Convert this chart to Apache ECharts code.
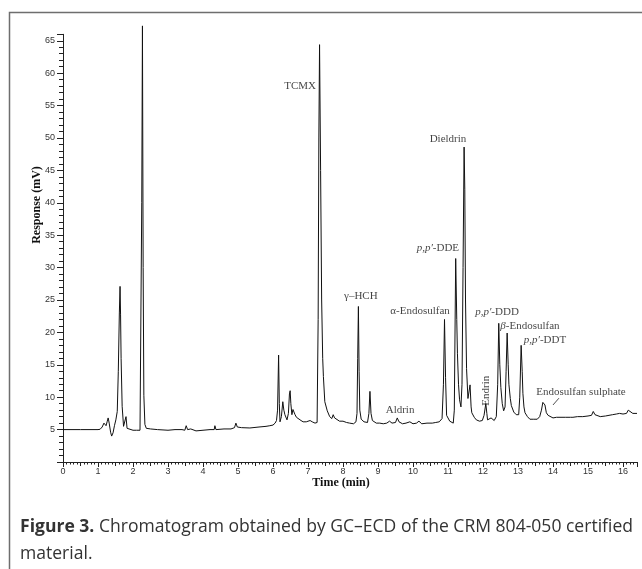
<!DOCTYPE html>
<html><head><meta charset="utf-8">
<script src="https://cdn.jsdelivr.net/npm/echarts@6/dist/echarts.min.js"></script>
<style>html,body{margin:0;padding:0;background:#fff}#c{width:642px;height:569px}</style>
</head><body><div id="c"></div>
<script>
// Retention time (min)
const times = [
0.00,0.50,1.00,1.06,1.12,1.17,1.20,1.23,1.26,1.29,1.32,1.36,1.39,1.43,1.47,1.51,1.55,1.58,1.61,1.63,1.645,1.66,1.69,1.73,1.76,1.80,1.83,1.88,2.00,2.10,2.20,2.23,2.25,2.27,2.29,2.31,2.34,2.38,2.50,2.70,3.00,3.20,3.40,3.48,3.52,3.56,3.65,3.80,4.00,4.20,4.32,4.34,4.37,4.60,4.80,4.90,4.94,4.98,5.10,5.34,5.60,5.80,5.91,6.00,6.06,6.10,6.13,6.16,6.18,6.20,6.24,6.28,6.31,6.34,6.40,6.44,6.47,6.49,6.51,6.54,6.57,6.60,6.63,6.67,6.72,6.80,6.86,6.95,7.00,7.06,7.12,7.20,7.26,7.29,7.31,7.33,7.36,7.39,7.42,7.44,7.48,7.55,7.62,7.68,7.72,7.76,7.81,7.90,8.00,8.10,8.19,8.30,8.37,8.40,8.42,8.44,8.46,8.48,8.52,8.60,8.70,8.74,8.77,8.80,8.84,8.95,9.05,9.15,9.25,9.33,9.40,9.50,9.55,9.60,9.70,9.80,9.91,10.00,10.10,10.17,10.25,10.40,10.55,10.65,10.75,10.83,10.87,10.90,10.93,10.96,11.05,11.15,11.18,11.22,11.25,11.27,11.30,11.33,11.37,11.40,11.43,11.46,11.48,11.50,11.53,11.57,11.60,11.63,11.66,11.68,11.75,11.81,11.90,11.98,12.03,12.08,12.11,12.13,12.18,12.23,12.28,12.32,12.38,12.42,12.45,12.48,12.51,12.55,12.59,12.63,12.66,12.69,12.72,12.74,12.78,12.81,12.88,12.95,13.02,13.05,13.09,13.12,13.14,13.17,13.20,13.27,13.34,13.45,13.55,13.62,13.67,13.71,13.74,13.77,13.81,13.86,13.91,14.00,14.10,14.20,14.35,14.50,14.57,14.70,14.85,15.00,15.10,15.15,15.20,15.25,15.35,15.50,15.60,15.70,15.81,15.90,16.00,16.10,16.15,16.20,16.28,16.33,16.40
];
// Detector response (mV)
const response = [
5.0,5.0,5.0,5.05,5.4,6.0,6.1,5.6,6.2,6.8,6.0,4.6,4.0,4.5,5.6,6.5,7.8,14.0,23.0,27.1,22.7,16.0,8.6,5.5,5.6,7.0,5.2,4.9,4.9,4.9,4.9,5.2,40.0,67.3,30.0,10.3,5.8,5.2,5.1,5.0,4.9,5.0,5.0,4.9,5.6,5.0,5.1,4.8,4.9,5.0,5.0,5.6,5.0,5.1,5.1,5.3,6.0,5.4,5.3,5.25,5.4,5.5,5.6,5.7,6.0,6.4,8.0,16.5,9.0,6.2,7.0,9.3,8.0,7.3,6.5,7.5,10.5,11.0,9.0,7.3,8.1,8.0,7.3,6.9,6.7,6.4,6.2,6.2,6.3,6.4,6.2,6.0,6.1,22.0,50.0,64.4,45.0,25.0,16.0,13.2,9.3,7.9,7.0,6.7,7.3,6.8,6.5,6.3,6.3,6.1,6.0,5.9,6.2,7.5,16.0,24.0,14.0,8.0,6.6,6.2,6.1,7.5,10.9,7.5,6.4,6.0,6.0,5.9,6.0,6.3,6.0,6.1,6.8,6.2,5.9,6.0,6.2,5.9,6.0,6.3,5.9,6.0,6.0,6.1,6.2,6.7,12.0,22.0,13.0,7.2,6.3,6.0,8.0,31.4,22.0,16.7,12.0,9.6,8.5,12.0,30.0,48.6,42.0,25.0,14.4,9.8,9.5,11.9,8.5,7.6,6.9,6.5,6.3,6.4,7.2,9.0,7.5,6.5,6.5,6.8,6.5,6.4,7.0,12.0,21.4,15.0,11.5,9.0,7.9,8.5,14.0,19.9,15.0,12.0,9.8,8.7,7.7,7.3,7.3,10.0,18.0,14.0,10.6,8.5,7.6,7.0,6.6,6.6,6.6,7.0,8.0,9.2,9.3,8.8,7.6,7.2,6.9,6.8,6.9,6.9,6.9,6.9,6.9,7.0,7.0,7.1,7.2,7.8,7.3,7.0,7.0,7.1,7.2,7.3,7.4,7.5,7.4,7.5,8.0,7.8,7.5,7.6,7.5
];
// Peak annotations (text, anchor time, anchor response)
const peakNames = ['TCMX','γ–HCH','Aldrin','α-Endosulfan','{i|p,p′}-DDE','Dieldrin','Endrin','{i|p,p′}-DDD','{i|β}-Endosulfan','{i|p,p′}-DDT','Endosulfan sulphate'];
const peakLabelTimes = [7.23,8.51,9.63,10.20,10.71,11.00,12.09,12.40,13.34,13.77,14.80];
const peakLabelValues = [58.0,25.6,8.0,23.3,33.0,49.8,11.0,23.1,21.0,18.8,10.8];
// leader line for Endosulfan sulphate
const leaderTimes = [14.17,14.00];
const leaderValues = [9.85,8.8];
// axis ticks
const yTickLabels = ['5','10','15','20','25','30','35','40','45','50','55','60','65'];
const xTickLabels = ['0','1','2','3','4','5','6','7','8','9','10','11','12','13','14','15','16'];
const captionBold = 'Figure 3.';
const captionLine1 = ' Chromatogram obtained by GC–ECD of the CRM 804-050 certified';
const captionLine2 = 'material.';

const chart = echarts.init(document.getElementById('c'), null, {renderer:'canvas'});
const lineData = times.map((t,i)=>[t,response[i]]);
const labelData = peakNames.map((n,i)=>{
  const d = {value:[peakLabelTimes[i],peakLabelValues[i]], name:n};
  if (n==='TCMX') d.label = {align:'right'};
  if (n==='Endrin') d.label = {rotate:90};
  return d;
});

// caption width fitting
const mc = document.createElement('canvas').getContext('2d');
const capFont = '"Liberation Sans Narrow","Open Sans",sans-serif';
mc.font = 'bold 18px ' + capFont; const wb = mc.measureText(captionBold).width;
mc.font = '18px ' + capFont; const wr = mc.measureText(captionLine1).width;
const capScale = 613/(wb+wr);

const tickFont = {fontFamily:'"Liberation Sans",Arial,sans-serif', fontSize:9, color:'#333'};
const serif = '"Liberation Serif","Times New Roman",serif';

chart.setOption({
  animation:false,
  backgroundColor:'#fff',
  grid:{left:63,right:5,top:34.3,bottom:107,containLabel:false},
  xAxis:[{
    type:'value',min:0,max:16.4,interval:1,
    axisLine:{show:true,onZero:false,lineStyle:{color:'#222',width:1}},
    axisTick:{show:true,length:5,lineStyle:{color:'#222'}},
    minorTick:{show:true,splitNumber:10,length:2.5,lineStyle:{color:'#222'}},
    splitLine:{show:false},
    axisLabel:Object.assign({margin:5,showMaxLabel:false,formatter:v=>{const s=String(Math.round(v)); return xTickLabels.includes(s)&&Math.abs(v-Math.round(v))<1e-6?s:'';}},tickFont)
  },{
    type:'value',min:0,max:16.4,interval:0.5,position:'bottom',
    axisLine:{show:false},axisTick:{show:true,length:4,lineStyle:{color:'#222'}},
    axisLabel:{show:false},splitLine:{show:false}
  }],
  yAxis:{
    type:'value',min:0,max:66,interval:5,
    axisLine:{show:true,onZero:false,lineStyle:{color:'#222',width:1}},
    axisTick:{show:true,length:6,lineStyle:{color:'#222'}},
    minorTick:{show:true,splitNumber:5,length:4,lineStyle:{color:'#222'}},
    splitLine:{show:false},
    axisLabel:Object.assign({margin:8,showMaxLabel:false,formatter:v=>{const s=String(v); return yTickLabels.includes(s)?s:'';}},tickFont)
  },
  series:[{
    type:'line',data:lineData,showSymbol:false,symbol:'none',clip:false,
    lineStyle:{color:'#111',width:1},silent:true
  },{
    type:'line',data:leaderTimes.map((t,i)=>[t,leaderValues[i]]),showSymbol:false,symbol:'none',
    lineStyle:{color:'#222',width:0.8},silent:true
  },{
    type:'scatter',data:labelData,symbolSize:0,silent:true,
    label:{show:true,position:'inside',formatter:p=>p.name,fontFamily:serif,fontSize:11,color:'#111',
      rich:{i:{fontStyle:'italic',fontFamily:serif,fontSize:11,color:'#111'}}}
  }],
  graphic:[
    {type:'rect',shape:{x:9.5,y:12.5,width:700,height:700},style:{fill:'none',stroke:'#6e6e6e',lineWidth:1.5},silent:true},
    {type:'text',x:341,y:483,style:{text:'Time (min)',font:'bold 12px '+serif,fill:'#111',textAlign:'center',textVerticalAlign:'middle'}},
    {type:'text',x:37,y:205,rotation:Math.PI/2,style:{text:'Response (mV)',font:'bold 12px '+serif,fill:'#111',textAlign:'center',textVerticalAlign:'middle'}},
    {type:'group',x:20,y:527,scaleX:capScale,children:[
      {type:'text',x:0,y:0,style:{text:'{b|'+captionBold+'}{r|'+captionLine1+'}',textVerticalAlign:'middle',
        rich:{b:{font:'bold 18px '+capFont,fill:'#333'},r:{font:'18px '+capFont,fill:'#333'}}}},
      {type:'text',x:0,y:27,style:{text:captionLine2,font:'18px '+capFont,fill:'#333',textVerticalAlign:'middle'}}
    ]}
  ]
});
</script>
</body></html>
